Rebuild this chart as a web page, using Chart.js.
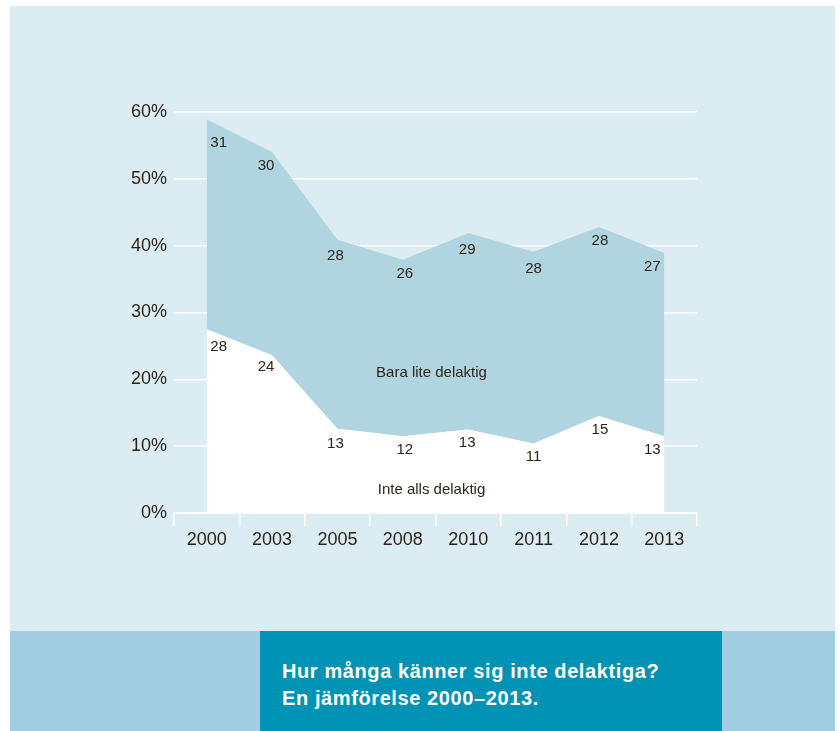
<!DOCTYPE html>
<html lang="sv">
<head>
<meta charset="utf-8">
<title>Hur många känner sig inte delaktiga?</title>
<script src="https://cdn.jsdelivr.net/npm/chart.js@4.4.1/dist/chart.umd.min.js"></script>
<style>
  html, body { margin: 0; padding: 0; background: #ffffff; }
  body { width: 840px; height: 731px; position: relative; overflow: hidden; font-family: "Liberation Sans", Arial, sans-serif; }
  #panel { position: absolute; left: 10px; top: 6px; width: 825px; height: 625px; background: #dcecf3; }
  #band { position: absolute; left: 10px; top: 631px; width: 825px; height: 100px; background: #a2cde0; }
  #box { position: absolute; left: 260px; top: 631px; width: 462px; height: 100px; background: #0093b5; }
  #box p { margin: 0; position: absolute; left: 22px; top: 27px; color: #ffffff; font-weight: bold; font-size: 20px; line-height: 26.5px; letter-spacing: 0.6px; white-space: nowrap; }
  #wrap { position: absolute; left: 0; top: 0; width: 840px; height: 631px; }
</style>
</head>
<body>
<div id="panel"></div>
<div id="band"></div>
<div id="box"><p>Hur många känner sig inte delaktiga?<br>En jämförelse 2000–2013.</p></div>
<div id="wrap"><canvas id="chart" width="840" height="631"></canvas></div>
<script>
  // år
  const years = ["2000", "2003", "2005", "2008", "2010", "2011", "2012", "2013"];

  // värden (procent)
  const inteAlls = [27.5, 23.6, 12.6, 11.5, 12.5, 10.4, 14.5, 11.5];
  const baraLite = [31.4, 30.4, 28.3, 26.4, 29.4, 28.7, 28.3, 27.4];

  // siffrorna som står i diagrammet
  const inteAllsLabels = [28, 24, 13, 12, 13, 11, 15, 13];
  const baraLiteLabels = [31, 30, 28, 26, 29, 28, 28, 27];

  const yTicks = [0, 10, 20, 30, 40, 50, 60];

  const textColor = "#2d2419";
  const font = "Liberation Sans, Arial, sans-serif";

  // små förskjutningar för siffrorna (px)
  const nudgeX = [12, -6, -2, 2, -1, 0, 1, -12];
  const nudgeTopY = [24, 14, 16, 14, 17, 17, 14, 14];
  const nudgeBotY = [18, 12, 15, 14, 13, 13, 14, 14];

  const labelPlugin = {
    id: "labels",
    afterDatasetsDraw(chart) {
      const ctx = chart.ctx;
      const sy = chart.scales.y;
      const area = chart.chartArea;
      ctx.save();
      ctx.fillStyle = textColor;
      ctx.textAlign = "center";
      ctx.textBaseline = "middle";
      ctx.font = "15px " + font;

      const bottom = chart.getDatasetMeta(0).data;
      const top = chart.getDatasetMeta(1).data;
      bottom.forEach((p, i) => {
        ctx.fillText(String(inteAllsLabels[i]), p.x + nudgeX[i], p.y + nudgeBotY[i]);
      });
      top.forEach((p, i) => {
        ctx.fillText(String(baraLiteLabels[i]), p.x + nudgeX[i], p.y + nudgeTopY[i]);
      });

      const cx = (area.left + area.right) / 2 - 4;
      ctx.fillText("Bara lite delaktig", cx, sy.getPixelForValue(21));
      ctx.fillText("Inte alls delaktig", cx, sy.getPixelForValue(3.4));
      ctx.restore();
    }
  };

  new Chart(document.getElementById("chart"), {
    type: "line",
    data: {
      labels: years,
      datasets: [
        {
          label: "Inte alls delaktig",
          data: inteAlls,
          backgroundColor: "#ffffff",
          borderWidth: 0,
          pointRadius: 0,
          tension: 0,
          fill: "origin"
        },
        {
          label: "Bara lite delaktig",
          data: baraLite,
          backgroundColor: "#b0d5e1",
          borderWidth: 0,
          pointRadius: 0,
          tension: 0,
          fill: "-1"
        }
      ]
    },
    options: {
      responsive: false,
      animation: false,
      layout: { padding: { left: 100, right: 143, top: 112, bottom: 0 } },
      plugins: {
        legend: { display: false },
        tooltip: { enabled: false }
      },
      scales: {
        x: {
          offset: true,
          grid: {
            offset: true,
            drawOnChartArea: false,
            color: "#ffffff",
            lineWidth: 1.5,
            tickLength: 13
          },
          border: { display: true, color: "#ffffff", width: 1.5 },
          ticks: { color: textColor, font: { family: font, size: 18 }, padding: 3 },
          afterFit(scale) { scale.height = 118; }
        },
        y: {
          stacked: true,
          min: 0,
          max: 60,
          afterBuildTicks(scale) { scale.ticks = yTicks.map(v => ({ value: v })); },
          grid: { color: "#ffffff", lineWidth: 1.5, drawTicks: false },
          border: { display: false },
          ticks: {
            color: textColor,
            font: { family: font, size: 18 },
            padding: 7,
            callback: v => v + "%"
          },
          afterFit(scale) { scale.width = 74; }
        }
      }
    },
    plugins: [labelPlugin]
  });
</script>
</body>
</html>
